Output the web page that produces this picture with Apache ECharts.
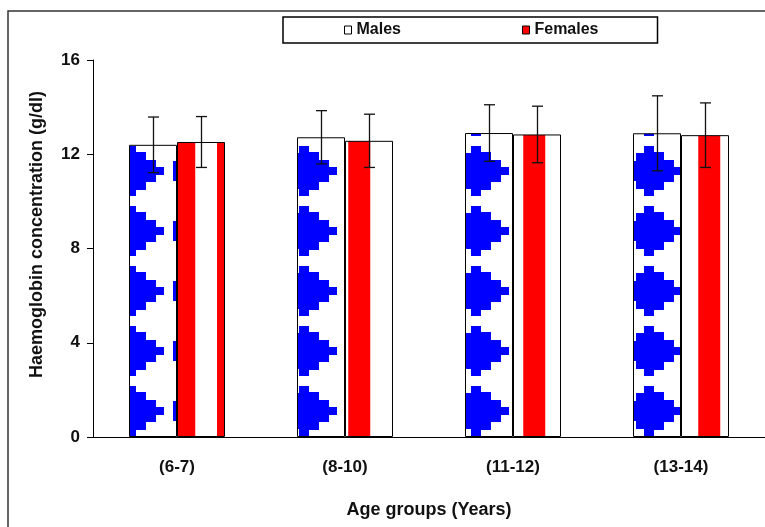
<!DOCTYPE html>
<html><head><meta charset="utf-8">
<script src="https://cdn.jsdelivr.net/npm/echarts@6/dist/echarts.min.js"></script>
<style>html,body{margin:0;padding:0;background:#fff}#c{width:765px;height:527px}</style>
</head><body><div id="c"></div>
<script>
const categories = ['(6-7)', '(8-10)', '(11-12)', '(13-14)'];
const maleMean = [12.40, 12.72, 12.90, 12.89];
const maleSD = [1.18, 1.13, 1.20, 1.59];
const femaleMean = [12.52, 12.57, 12.84, 12.81];
const femaleSD = [1.08, 1.13, 1.20, 1.37];
const yMin = 0, yMax = 16, yInterval = 4;
const seriesNames = ['Males', 'Females'];
const xTitle = 'Age groups (Years)';
const yTitle = 'Haemoglobin concentration (g/dl)';

const FONT = 'Liberation Sans, Arial, sans-serif';

function malePattern() {
  const W = 230, H = 60;
  const c = document.createElement('canvas'); c.width = W; c.height = H;
  const g = c.getContext('2d');
  g.fillStyle = '#fff'; g.fillRect(0, 0, W, H);
  g.fillStyle = '#0000ff';
  const steps = [[0, 8, 4], [8, 18, 11], [18, 28, 19], [28, 38, 25], [38, 46, 18], [46, 49, 10]];
  const tips = [49, 107, 164, 222];
  for (const t0 of tips) for (const dx of [-W, 0, W]) for (const dy of [-H, 0, H]) {
    const T = t0 + dx, C = 51 + dy;
    for (const [a, b, h] of steps) g.fillRect(T - b, C - h, b - a, 2 * h);
  }
  return c;
}
function femalePattern() {
  const W = 175, H = 4;
  const c = document.createElement('canvas'); c.width = W; c.height = H;
  const g = c.getContext('2d');
  g.fillStyle = '#fff'; g.fillRect(0, 0, W, H);
  g.fillStyle = '#ff0000';
  for (let k = -1; k < 5; k++) g.fillRect(42 + 43.75 * k, 0, 22, H);
  return c;
}

function errRender(offset) {
  return function (params, api) {
    const i = api.value(0), m = api.value(1), s = api.value(2);
    const top = api.coord([i, m + s]), bot = api.coord([i, m - s]);
    const x = Math.round(top[0] + offset) + 0.5, hw = 5.5;
    const st = { stroke: '#111', lineWidth: 1.3 };
    return { type: 'group', children: [
      { type: 'line', shape: { x1: x, y1: top[1], x2: x, y2: bot[1] }, style: st },
      { type: 'line', shape: { x1: x - hw, y1: top[1], x2: x + hw, y2: top[1] }, style: st },
      { type: 'line', shape: { x1: x - hw, y1: bot[1], x2: x + hw, y2: bot[1] }, style: st }
    ]};
  };
}

const chart = echarts.init(document.getElementById('c'), null, { renderer: 'canvas' });
const txt = (size) => ({ fontFamily: FONT, fontWeight: 'bold', fontSize: size, color: '#111' });
chart.setOption({
  animation: false,
  backgroundColor: '#fff',
  graphic: [{ type: 'rect', shape: { x: 8, y: 11, width: 800, height: 600 }, style: { fill: null, stroke: '#333', lineWidth: 1.5 }, silent: true }],
  legend: {
    left: 283, top: 17, orient: 'horizontal',
    padding: [5, 59, 5, 61], itemGap: 121, itemWidth: 7, itemHeight: 8,
    borderColor: '#000', borderWidth: 1.5, selectedMode: false,
    textStyle: txt(16),
    data: [
      { name: seriesNames[0], icon: 'rect', itemStyle: { color: '#fff', borderColor: '#000', borderWidth: 1 } },
      { name: seriesNames[1], icon: 'rect', itemStyle: { color: '#ff0000', borderColor: '#000', borderWidth: 1 } }
    ]
  },
  grid: { left: 93, top: 60, width: 674, height: 377, containLabel: false },
  xAxis: {
    type: 'category', data: categories, boundaryGap: true,
    axisLine: { lineStyle: { color: '#000', width: 1 } },
    axisTick: { length: 6, lineStyle: { color: '#000' } },
    axisLabel: Object.assign({ margin: 22 }, txt(17)),
    name: xTitle, nameLocation: 'middle', nameGap: 64, nameTextStyle: txt(18)
  },
  yAxis: {
    type: 'value', min: yMin, max: yMax, interval: yInterval,
    splitLine: { show: false },
    axisLine: { show: true, lineStyle: { color: '#000', width: 1 } },
    axisTick: { show: true, length: 6, lineStyle: { color: '#000' } },
    axisLabel: Object.assign({ margin: 13 }, txt(17)),
    name: yTitle, nameLocation: 'middle', nameGap: 47, nameTextStyle: Object.assign({ padding: [0, 0, 0, 28] }, txt(18))
  },
  series: [
    { type: 'bar', name: seriesNames[0], data: maleMean, barWidth: 48, barGap: '0%',
      itemStyle: { color: { image: malePattern(), repeat: 'repeat' }, borderColor: '#000', borderWidth: 1 } },
    { type: 'bar', name: seriesNames[1], data: femaleMean, barWidth: 48, barGap: '0%',
      itemStyle: { color: { image: femalePattern(), repeat: 'repeat' }, borderColor: '#000', borderWidth: 1 } },
    { type: 'custom', name: 'maleErr', renderItem: errRender(-24), encode: { x: 0, y: 1 }, z: 5,
      data: categories.map((c, i) => [i, maleMean[i], maleSD[i]]) },
    { type: 'custom', name: 'femaleErr', renderItem: errRender(24), encode: { x: 0, y: 1 }, z: 5,
      data: categories.map((c, i) => [i, femaleMean[i], femaleSD[i]]) }
  ]
});
</script></body></html>
